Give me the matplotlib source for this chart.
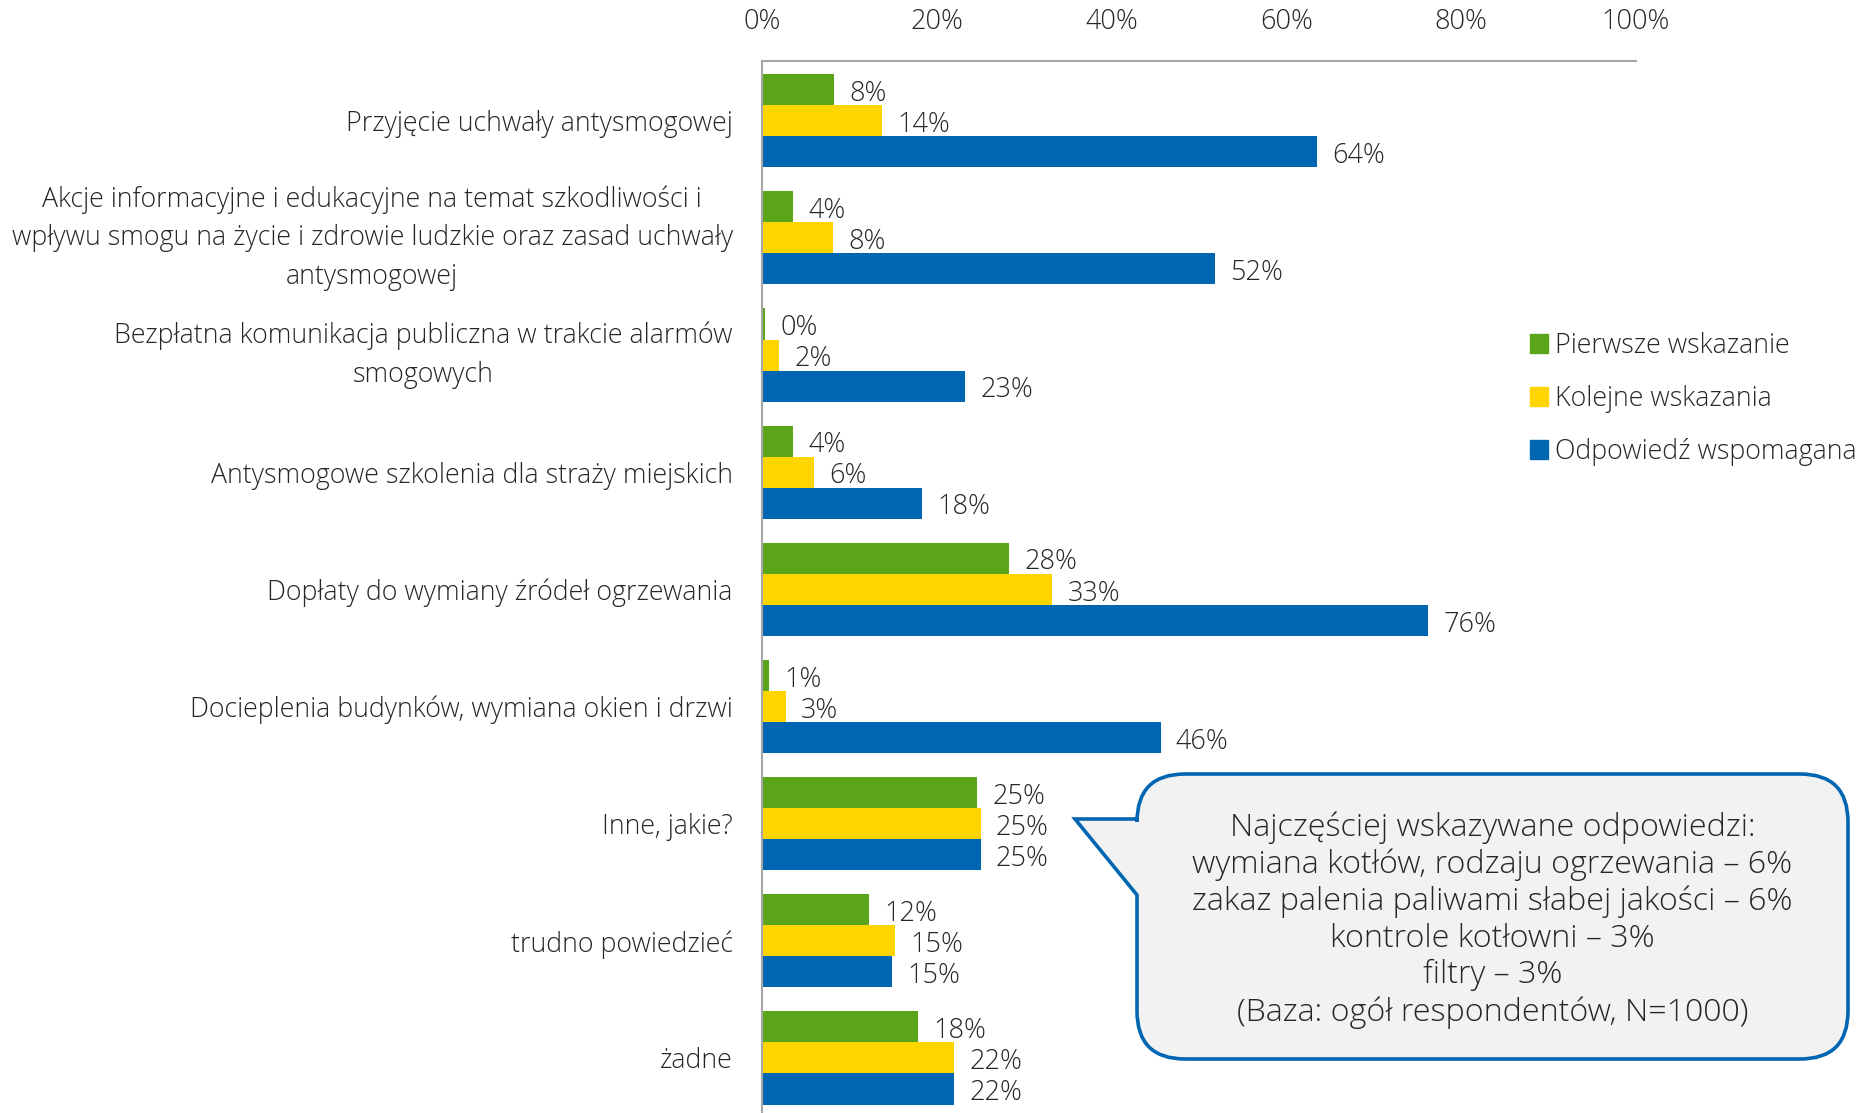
import matplotlib
matplotlib.use('Agg')
import matplotlib.pyplot as plt
from matplotlib.patches import Patch, PathPatch
from matplotlib.path import Path
import matplotlib.transforms as mtransforms
import numpy as np

plt.rcParams['font.family'] = ['Open Sans', 'DejaVu Sans']
plt.rcParams['font.weight'] = 'light'

# data
categories = [
    'Przyjęcie uchwały antysmogowej',
    'Akcje informacyjne i edukacyjne na temat szkodliwości i\nwpływu smogu na życie i zdrowie ludzkie oraz zasad uchwały\nantysmogowej',
    'Bezpłatna komunikacja publiczna w trakcie alarmów\nsmogowych',
    'Antysmogowe szkolenia dla straży miejskich',
    'Dopłaty do wymiany źródeł ogrzewania',
    'Docieplenia budynków, wymiana okien i drzwi',
    'Inne, jakie?',
    'trudno powiedzieć',
    'żadne',
]
first_mention = [8.2, 3.6, 0.4, 3.6, 28.3, 0.8, 24.6, 12.2, 17.9]
next_mentions = [13.7, 8.1, 2.0, 6.0, 33.2, 2.7, 25.0, 15.2, 22.0]
aided_answer = [63.5, 51.8, 23.2, 18.3, 76.2, 45.6, 25.0, 14.9, 22.0]
series_names = ['Pierwsze wskazanie', 'Kolejne wskazania', 'Odpowiedź wspomagana']
x_ticks = [0, 20, 40, 60, 80, 100]
callout_lines = [
    'Najczęściej wskazywane odpowiedzi:',
    'wymiana kotłów, rodzaju ogrzewania – 6%',
    'zakaz palenia paliwami słabej jakości – 6%',
    'kontrole kotłowni – 3%',
    'filtry – 3%',
    '(Baza: ogół respondentów, N=1000)',
]

colors = ['#5AA51A', '#FFD500', '#0066B2']
text_color = '#262626'
spine_color = '#A6A6A6'

W, H = 1872, 1113
fig = plt.figure(figsize=(W / 100, H / 100), dpi=100)
ax = fig.add_axes([762 / W, 0, (1636 - 762) / W, 1 - 61 / H])

y = np.arange(len(categories))
bar_h = 0.265
for k, (vals, col) in enumerate(zip([first_mention, next_mentions, aided_answer], colors)):
    pos = y + (k - 1) * bar_h
    ax.barh(pos, vals, height=bar_h, color=col, label=series_names[k])
    for p, v in zip(pos, vals):
        ax.annotate(f'{v:.0f}%', (v, p), xytext=(11, -3), textcoords='offset points',
                    ha='left', va='center', fontsize=19.5, color=text_color)

ax.set_xlim(0, 100)
ax.set_ylim(8.47, -0.51)
ax.xaxis.tick_top()
ax.set_xticks(x_ticks)
ax.set_xticklabels([f'{t}%' for t in x_ticks])
ax.set_yticks(y)
ax.set_yticklabels(categories)
ax.tick_params(axis='x', length=0, pad=18, labelsize=19.5, labelcolor=text_color)
ax.tick_params(axis='y', length=0, pad=21, labelsize=19.3, labelcolor=text_color)
for lab in ax.get_yticklabels():
    lab.set_multialignment('center')
    lab.set_linespacing(1.5)
    if '\n' in lab.get_text():
        lab.set_va('center')

for s in ['right', 'bottom']:
    ax.spines[s].set_visible(False)
for s in ['top', 'left']:
    ax.spines[s].set_color(spine_color)
    ax.spines[s].set_linewidth(1.5)

handles = [Patch(color=c) for c in colors]
fig.legend(handles, series_names, loc='upper left',
           bbox_to_anchor=(1530 / W, 1 - 332 / H), bbox_transform=fig.transFigure,
           frameon=False, fontsize=19.3, handlelength=0.67, handleheight=0.67,
           handletextpad=0.25, labelspacing=0.93, borderpad=0, borderaxespad=0,
           labelcolor=text_color)

# callout bubble, built in pixel units (y from bottom)
bx0, bx1, by_top, by_bot = 1137, 1848, 774, 1059
r = 48
tip = (1075, 819)
p_up, p_low = 819, 895

def pt(x, yt):
    return (x, H - yt)

verts = [pt(*tip), pt(bx0, p_up), pt(bx0, by_top + r),
         pt(bx0, by_top), pt(bx0 + r, by_top),
         pt(bx1 - r, by_top),
         pt(bx1, by_top), pt(bx1, by_top + r),
         pt(bx1, by_bot - r),
         pt(bx1, by_bot), pt(bx1 - r, by_bot),
         pt(bx0 + r, by_bot),
         pt(bx0, by_bot), pt(bx0, by_bot - r),
         pt(bx0, p_low), pt(*tip), pt(*tip)]
codes = [Path.MOVETO, Path.LINETO, Path.LINETO,
         Path.CURVE3, Path.CURVE3,
         Path.LINETO,
         Path.CURVE3, Path.CURVE3,
         Path.LINETO,
         Path.CURVE3, Path.CURVE3,
         Path.LINETO,
         Path.CURVE3, Path.CURVE3,
         Path.LINETO, Path.LINETO, Path.CLOSEPOLY]
px_trans = mtransforms.Affine2D().scale(1 / W, 1 / H) + fig.transFigure
bubble = PathPatch(Path(verts, codes), facecolor='#F2F2F2', edgecolor='#0066B2',
                   linewidth=2.6, joinstyle='miter', transform=px_trans)
fig.patches.append(bubble)
fig.text((bx0 + bx1) / 2 / W, 1 - 920 / H, '\n'.join(callout_lines),
         ha='center', va='center', multialignment='center', fontsize=23.2,
         linespacing=1.19, color=text_color)

fig.savefig('out.png', dpi=100)
